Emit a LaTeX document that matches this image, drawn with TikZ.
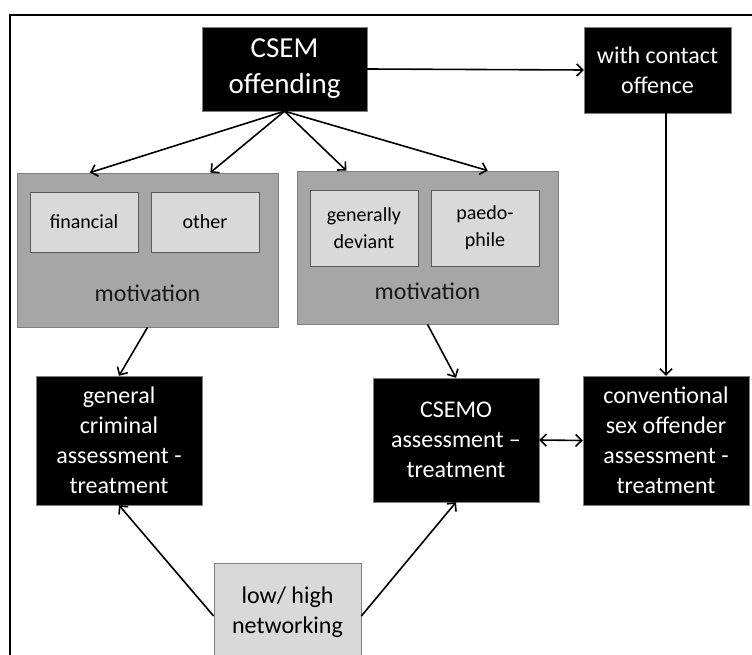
\documentclass[tikz,border=0pt]{standalone}
\usepackage{fontspec}
\setmainfont{Carlito}
\usetikzlibrary{arrows.meta, positioning, calc}
\definecolor{groupgray}{HTML}{A6A6A6}
\definecolor{boxgray}{HTML}{D9D9D9}
\definecolor{edgegray}{HTML}{7F7F7F}
\definecolor{darkedge}{HTML}{595959}

\begin{document}
\begin{tikzpicture}[x=1pt, y=-1pt,
    darkbox/.style={rectangle, fill=black, draw=edgegray, text=white, align=center, inner sep=2pt, font=\fontsize{24}{30}\selectfont},
    group/.style={rectangle, fill=groupgray, draw=edgegray, line width=0.8pt, minimum width=261pt, minimum height=154pt},
    inner/.style={rectangle, fill=boxgray, draw=darkedge, line width=0.8pt, align=center, minimum width=108pt, font=\fontsize{20}{27}\selectfont},
    motlabel/.style={font=\fontsize{24}{29}\selectfont, text=black!90},
    arr/.style={-{Straight Barb[length=6pt, width=12pt]}, line width=1.6pt}]

  \useasboundingbox (0,0) rectangle (752,655);

  % Frame
  \draw[line width=1.4pt] (10,680) -- (10,15) -- (780,15);

  % Top row
  \node[darkbox, minimum width=165pt, minimum height=84pt, font=\fontsize{29}{36}\selectfont] (csem) at (284.5,69) {CSEM\\offending};
  \node[darkbox, minimum width=147pt, minimum height=86pt] (contact) at (657.5,70) {with contact\\offence};

  % Motivation groups
  \node[group] (mot1) at (147.5,250) {};
  \node[inner, minimum height=60pt] (fin) at (84,222) {financial};
  \node[inner, minimum height=60pt] (oth) at (205,222) {other};
  \node[motlabel] (mot1lab) at (147.5,293) {motivation};

  \node[group, minimum height=153pt] (mot2) at (427.5,247.5) {};
  \node[inner, minimum height=76pt] (dev) at (364,228) {generally\\deviant};
  \node[inner, minimum height=76pt] (paed) at (485,228) {paedo-\\phile};
  \node[motlabel] (mot2lab) at (427.5,291) {motivation};

  % Assessment - treatment row
  \node[darkbox, minimum width=166pt, minimum height=129pt] (gen) at (119,440.5) {general\\criminal\\assessment -\\treatment};
  \node[darkbox, minimum width=166pt, minimum height=124pt] (csemo) at (456,440) {CSEMO\\assessment --\\treatment};
  \node[darkbox, minimum width=166pt, minimum height=129pt] (conv) at (666,440.5) {conventional\\sex offender\\assessment -\\treatment};

  % Networking
  \node[rectangle, fill=boxgray, draw=edgegray, line width=0.8pt, align=center, minimum width=147pt, minimum height=98pt, font=\fontsize{24}{30}\selectfont] (net) at (287.5,612) {low/ high\\networking};

  % Arrows
  \draw[arr] (csem.east) -- (contact.west);
  \draw[arr] (csem.south) -- ($(mot1.north west)!0.28!(mot1.north east)$);
  \draw[arr] (csem.south) -- ($(mot1.north west)!0.74!(mot1.north east)$);
  \draw[arr] (csem.south) -- ($(mot2.north west)!0.19!(mot2.north east)$);
  \draw[arr] (csem.south) -- ($(mot2.north west)!0.73!(mot2.north east)$);
  \draw[arr] (conv.north |- contact.south) -- (conv.north);
  \draw[arr] (mot1.south) -- (gen.north);
  \draw[arr] (mot2.south) -- (csemo.north);
  \draw[arr, {Straight Barb[length=6pt, width=12pt]}-{Straight Barb[length=6pt, width=12pt]}] (csemo.east) -- (conv.west);
  \draw[arr] ([yshift=-4pt]net.west) -- (gen.south);
  \draw[arr] ([yshift=-4pt]net.east) -- (csemo.south);
\end{tikzpicture}
\end{document}
